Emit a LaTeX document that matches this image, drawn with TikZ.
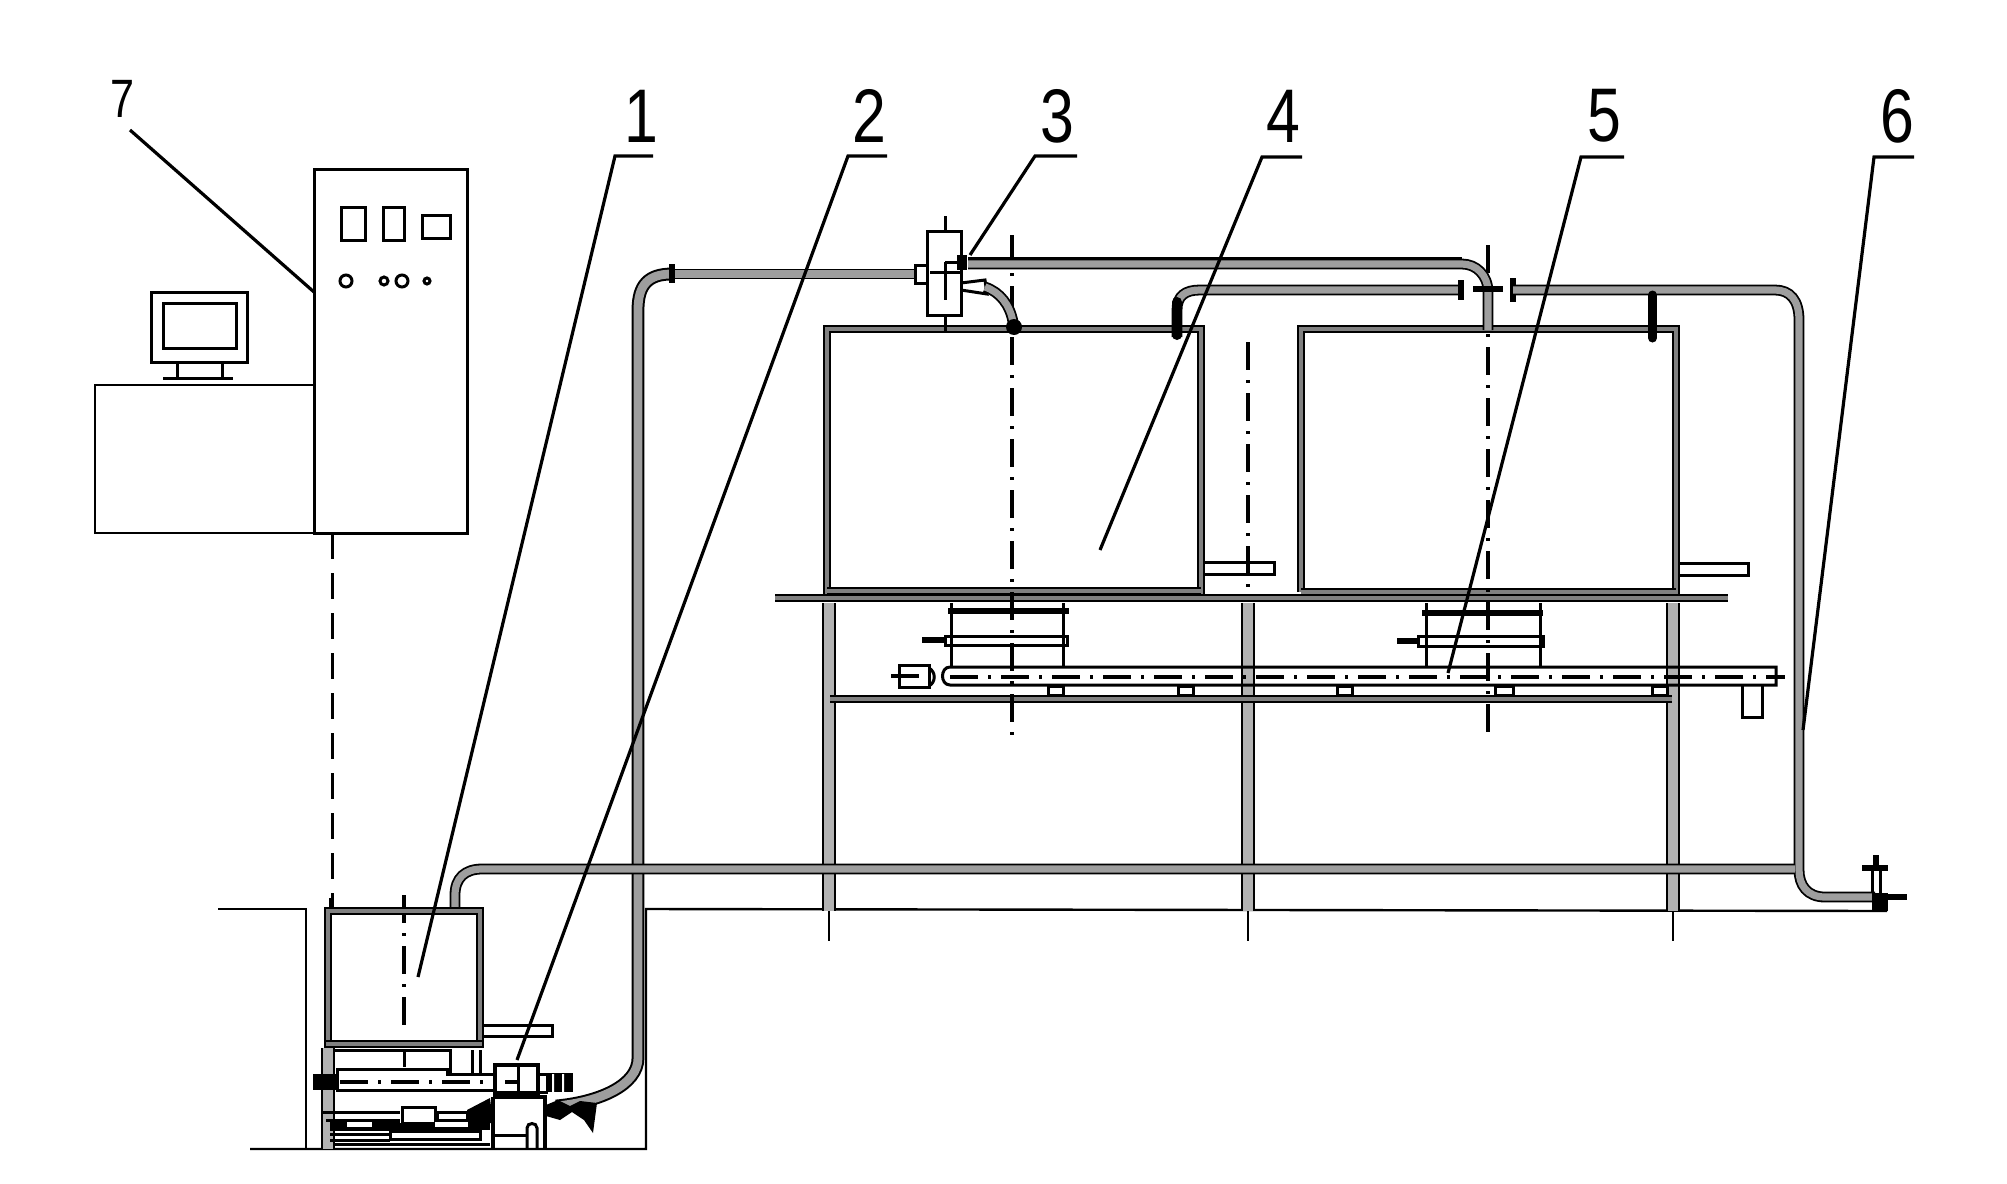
\documentclass[tikz,border=0pt]{standalone}
\usepackage{fontspec}
\setmainfont{Liberation Sans}
\tikzset{
  thinline/.style={draw=black,line width=1.2pt},
  medline/.style={draw=black,line width=1.5pt},
  thickbar/.style={draw=black,line width=2.6pt},
  pipe/.style={draw=black,line width=0.9pt,double=black!38,double distance=3.6pt},
  widepipe/.style={draw=black,line width=1pt,double=black!38,double distance=4.4pt},
  wall/.style={draw=black,line width=0.9pt,double=black!50,double distance=2.4pt},
  legpipe/.style={draw=black,line width=1pt,double=black!30,double distance=4.8pt},
  axisline/.style={draw=black,line width=1.8pt,dash pattern=on 14pt off 5pt on 1.5pt off 5pt},
  leader/.style={draw=black,line width=1.6pt},
  num/.style={inner sep=0pt,font=\fontsize{38}{38}\selectfont},
  smallnum/.style={inner sep=0pt,font=\fontsize{27}{27}\selectfont},
  sig/.style={draw=black,line width=1.5pt,dash pattern=on 13pt off 7pt},
}
\newcommand{\digit}[1]{\scalebox{0.8}[1]{#1}}
\begin{document}
\begin{tikzpicture}[x=0.5pt,y=-0.5pt]
\useasboundingbox (0,0) rectangle (2007,1183);
% ---- console
\draw[thinline] (95,385) rectangle (314,533);
\draw[medline] (314,169) rectangle (467,533);
\draw[medline] (151,292) rectangle (247,362);
\draw[medline] (163,303) rectangle (236,348);
\draw[medline] (177,362) -- (177,377) (222,362) -- (222,377);
\draw[medline] (163,378) -- (233,378);
\draw[medline] (341,207) rectangle (365,240);
\draw[medline] (383,207) rectangle (404,240);
\draw[medline] (422,215) rectangle (450,238);
\draw[medline] (346,281) circle[radius=6];
\draw[medline] (384,281) circle[radius=4];
\draw[medline] (402,281) circle[radius=6];
\draw[medline] (427,281) circle[radius=3];
\coordinate (sigtop) at (332,533);
\coordinate (sigbot) at (332,909);
\draw[sig] (sigtop) -- (sigbot);
% ---- ground and pit
\draw[thinline] (218,909) -- (306,909) -- (306,1149);
\draw[thinline] (250,1149) -- (646,1149) -- (646,909) -- (1887,911);
% ---- frame legs
\draw[legpipe] (829,603) -- (829,911);
\draw[legpipe] (1248,603) -- (1248,911);
\draw[legpipe] (1673,603) -- (1673,911);
\draw[thinline] (829,911) -- (829,941) (1248,911) -- (1248,941) (1673,911) -- (1673,941);
% ---- lower shelf
\draw[wall] (830,699) -- (1672,699);
% ---- tanks
\draw[wall] (827,597) -- (827,329) -- (1201,329) -- (1201,597);
\draw[wall] (1301,592) -- (1301,329) -- (1676,329) -- (1676,597);
\draw[wall] (827,591) -- (1201,591);
\draw[wall] (1301,592) -- (1676,592);
\draw[wall] (775,598) -- (1728,598);
% side stubs of the tanks
\draw[medline] (1205,562) -- (1274,562) -- (1274,574) -- (1205,574);
\draw[medline] (1680,563) -- (1748,563) -- (1748,575) -- (1680,575);
% ---- sub assemblies under tanks
\draw[medline] (951,603) -- (951,666) (1063,603) -- (1063,666);
\draw[thickbar] (948,611) -- (1069,611);
\draw[medline] (945,636) -- (1067,636) -- (1067,645) -- (945,645) -- cycle;
\draw[line width=3pt] (922,640) -- (945,640);
\draw[medline] (1426,603) -- (1426,666) (1540,603) -- (1540,666);
\draw[thickbar] (1422,613) -- (1543,613);
\draw[medline] (1418,636) -- (1543,636) -- (1543,646) -- (1418,646) -- cycle;
\draw[line width=3pt] (1397,641) -- (1418,641);
% ---- long conveyor tube
\draw[medline] (950,667) -- (1776,667) -- (1776,685) -- (950,685) .. controls (940,685) and (940,667) .. (950,667);
\draw[axisline] (950,677) -- (1785,677);
\draw[medline] (899,665) rectangle (929,687);
\draw[axisline] (891,676) -- (929,676);
\draw[medline] (929,668) .. controls (936,672) and (936,682) .. (929,686);
\foreach \xa/\xb in {1048/1063,1178/1193,1337/1352,1495/1513,1652/1667}
  \draw[medline] (\xa,686) rectangle (\xb,695);
\draw[medline] (1742,685) -- (1742,717) -- (1762,717) -- (1762,685);
% ---- axes
\draw[axisline] (1012,235) -- (1012,738);
\draw[axisline] (1488,245) -- (1488,738);
\draw[axisline] (1248,342) -- (1248,590);
\draw[axisline] (404,895) -- (404,1035);
% ---- pipes
\draw[widepipe] (556,1106) .. controls (600,1102) and (638,1085) .. (638,1058) -- (638,310) .. controls (638,285) and (648,274) .. (672,274);
\draw[pipe] (672,274) -- (917,274);
\draw[thickbar] (672,264) -- (672,283);
\draw[pipe] (968,264) -- (1462,264) .. controls (1476,264) and (1488,275) .. (1488,292) -- (1488,330);
\draw[line width=1.4pt] (968,258) -- (1462,258);
\draw[pipe] (1177,337) -- (1177,310) .. controls (1177,296) and (1185,290) .. (1200,290) -- (1461,290);
\draw[line width=5pt,line cap=round] (1177,302) -- (1177,335);
\draw[thickbar] (1461,280) -- (1461,300);
\draw[thickbar] (1473,289) -- (1503,289);
\draw[thickbar] (1513,278) -- (1513,302);
\draw[pipe] (1513,290) -- (1775,290) .. controls (1790,290) and (1799,300) .. (1799,320) -- (1799,870) .. controls (1799,885) and (1807,897) .. (1825,897) -- (1875,897);
\draw[line width=4.5pt,line cap=round] (1652.5,295) -- (1652.5,338);
\draw[pipe] (455,908) -- (455,895) .. controls (455,878) and (465,869) .. (482,869) -- (1795,869);
% ---- valve 3
\draw[medline,fill=white] (927,231) rectangle (961,315);
\draw[medline] (945,216) -- (945,231) (945,315) -- (945,333);
\draw[medline] (915,265) rectangle (927,283);
\draw[medline] (930,272) -- (961,272) (945,262) -- (945,300) (945,262) -- (961,262);
\draw[line width=5pt] (962,255) -- (962,270);
\draw[medline] (961,283) -- (985,280) -- (987,294) -- (961,290);
\draw[pipe] (985,287) .. controls (1000,292) and (1010,305) .. (1013,322);
\fill (1014,327) circle[radius=8];
% ---- end valve
\draw[medline] (1872,870) -- (1872,893) (1880,870) -- (1880,893);
\draw[thickbar] (1862,868) -- (1888,868);
\draw[thickbar] (1876,855) -- (1876,868);
\fill (1872,893) rectangle (1888,911);
\draw[thickbar] (1888,897) -- (1907,897);
% ---- tank 1
\draw[wall] (328,1048) -- (328,911) -- (480,911) -- (480,1048);
\draw[wall] (326,1044) -- (482,1044);
\draw[medline] (330,898) -- (330,908);
\draw[medline] (484,1025) -- (552,1025) -- (552,1036) -- (484,1036);
% ---- pump group
\draw[legpipe] (328,1048) -- (328,1149);
\draw[medline] (333,1050) -- (450,1050) -- (450,1073);
\draw[medline] (472,1050) -- (472,1073) (480,1050) -- (480,1073) (404,1050) -- (404,1067);
\draw[medline] (337,1069) -- (447,1069) -- (447,1074) -- (495,1074) -- (495,1090) -- (337,1090) -- cycle;
\fill (313,1074) rectangle (337,1090);
\draw[axisline] (340,1082) -- (495,1082);
\draw[line width=2.2pt] (495,1065) rectangle (538,1093);
\draw[medline] (518,1065) -- (518,1093);
\draw[axisline] (505,1082) -- (518,1082);
\draw[medline] (538,1074) -- (548,1074) (538,1092) -- (548,1092);
\fill (546,1073) rectangle (573,1092);
\fill[white] (552,1074) rectangle (554,1092) (562,1074) rectangle (564,1092);
\draw[line width=2.2pt] (493,1097) -- (545,1097) -- (545,1148);
\draw[line width=2.2pt] (493,1097) -- (493,1148);
\draw[medline] (493,1135) -- (526,1135);
\draw[medline] (527,1148) -- (527,1128) .. controls (527,1122) and (537,1122) .. (537,1128) -- (537,1148);
\fill (546,1105) -- (558,1100) -- (570,1106) -- (580,1101) -- (597,1103) -- (595,1118) -- (593,1133) -- (584,1120) -- (572,1112) -- (560,1120) -- (546,1116) -- cycle;
\draw[medline] (322,1112) -- (400,1112) (326,1120) -- (400,1120);
\draw[medline] (402,1107) rectangle (435,1123);
\draw[medline] (437,1112) rectangle (467,1120);
\fill (467,1110) -- (490,1098) -- (493,1123) -- (467,1123) -- cycle;
\fill (330,1122) rectangle (390,1131);
\fill (390,1120) rectangle (400,1133);
\fill (400,1123) rectangle (490,1130);
\fill[white] (347,1122) rectangle (372,1127);
\fill[white] (435,1122) rectangle (468,1127);
\draw[medline] (330,1134) -- (390,1134) (330,1140) -- (390,1140);
\draw[medline] (390,1131) rectangle (480,1139);
\draw[medline] (335,1144) -- (490,1144);
% ---- labels and leaders
\node[num] (n1) at (641,116) {\digit{1}};
\node[num] (n2) at (869,116) {\digit{2}};
\node[num] (n3) at (1057,116) {\digit{3}};
\node[num] (n4) at (1283,116) {\digit{4}};
\node[num] (n5) at (1604,116) {\digit{5}};
\node[num] (n6) at (1897,116) {\digit{6}};
\node[smallnum] (n7) at (123,99) {\digit{7}};
\coordinate (u1a) at (615,156); \coordinate (u1b) at (653,156); \coordinate (e1) at (418,977);
\coordinate (u2a) at (848,156); \coordinate (u2b) at (887,156); \coordinate (e2) at (517,1060);
\coordinate (u3a) at (1035,156); \coordinate (u3b) at (1077,156); \coordinate (e3) at (970,255);
\coordinate (u4a) at (1262,157); \coordinate (u4b) at (1302,157); \coordinate (e4) at (1100,550);
\coordinate (u5a) at (1581,157); \coordinate (u5b) at (1624,157); \coordinate (e5) at (1448,673);
\coordinate (u6a) at (1874,157); \coordinate (u6b) at (1914,157); \coordinate (e6) at (1803,730);
\coordinate (u7a) at (130,130); \coordinate (e7) at (314,292);
\draw[leader] (u1b) -- (u1a) -- (e1);
\draw[leader] (u2b) -- (u2a) -- (e2);
\draw[leader] (u3b) -- (u3a) -- (e3);
\draw[leader] (u4b) -- (u4a) -- (e4);
\draw[leader] (u5b) -- (u5a) -- (e5);
\draw[leader] (u6b) -- (u6a) -- (e6);
\draw[leader] (u7a) -- (e7);
\end{tikzpicture}
\end{document}
